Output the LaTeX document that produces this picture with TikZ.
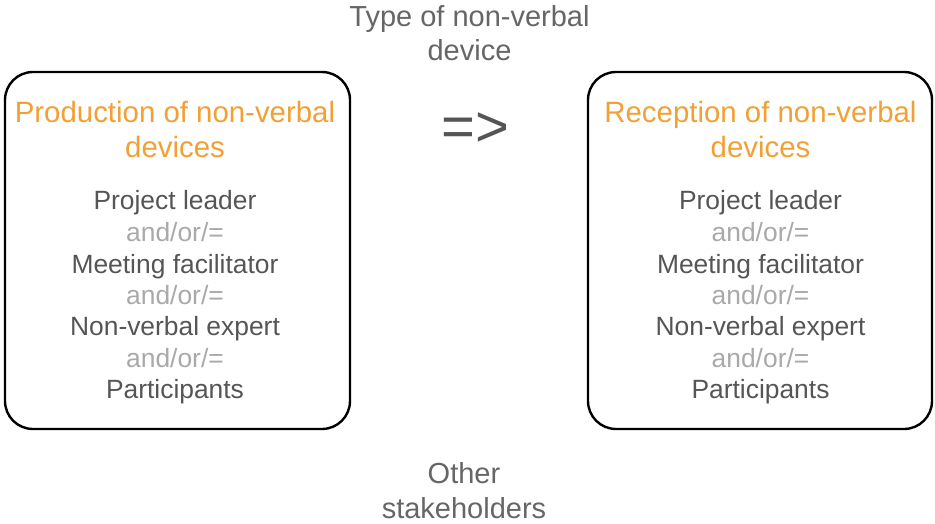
\documentclass[tikz,border=0pt]{standalone}
\usepackage{fontspec}
\setmainfont{Liberation Sans}
\definecolor{orng}{HTML}{F2A035}
\definecolor{darktxt}{HTML}{555555}
\definecolor{lighttxt}{HTML}{A9A9A9}
\definecolor{midtxt}{HTML}{666666}
\begin{document}
\begin{tikzpicture}[x=1pt,y=-1pt,
  box/.style={draw=black,line width=2.4pt,rounded corners=28pt},
  ttl/.style={anchor=base,inner sep=0pt,text=orng,font=\fontsize{29.4}{35}\selectfont},
  who/.style={anchor=base,inner sep=0pt,text=darktxt,font=\fontsize{26.4}{31}\selectfont},
  andor/.style={anchor=base,inner sep=0pt,text=lighttxt,font=\fontsize{26.4}{31}\selectfont},
  side/.style={anchor=base,inner sep=0pt,text=midtxt,font=\fontsize{29}{35}\selectfont}]
\useasboundingbox (0,0) rectangle (935,524);
\draw[box] (5,72) rectangle (350,429);
\draw[box] (588,72) rectangle (932,429);
% left box
\node[ttl] (lt1) at (175,122.7) {Production of non-verbal};
\node[ttl] (lt2) at (175,157.7) {devices};
\node[who] (l1) at (175,209.5) {Project leader};
\node[andor] (l2) at (175,241.5) {and/or/=};
\node[who] (l3) at (175,273.5) {Meeting facilitator};
\node[andor] (l4) at (175,304) {and/or/=};
\node[who] (l5) at (175,335.5) {Non-verbal expert};
\node[andor] (l6) at (175,367) {and/or/=};
\node[who] (l7) at (175,398.5) {Participants};
% right box
\node[ttl] (rt1) at (760.5,122.7) {Reception of non-verbal};
\node[ttl] (rt2) at (760.5,157.7) {devices};
\node[who] (r1) at (760.5,209.5) {Project leader};
\node[andor] (r2) at (760.5,241.5) {and/or/=};
\node[who] (r3) at (760.5,273.5) {Meeting facilitator};
\node[andor] (r4) at (760.5,304) {and/or/=};
\node[who] (r5) at (760.5,335.5) {Non-verbal expert};
\node[andor] (r6) at (760.5,367) {and/or/=};
\node[who] (r7) at (760.5,398.5) {Participants};
% middle
\node[side] (t1) at (469.5,26.5) {Type of non-verbal};
\node[side] (t2) at (469.5,61) {device};
\node[anchor=base,inner sep=0pt,text=darktxt,font=\fontsize{58}{60}\selectfont] (arr) at (475.5,147) {=>};
\node[side] (b1) at (464,483.5) {Other};
\node[side] (b2) at (464,518.5) {stakeholders};
\end{tikzpicture}
\end{document}
